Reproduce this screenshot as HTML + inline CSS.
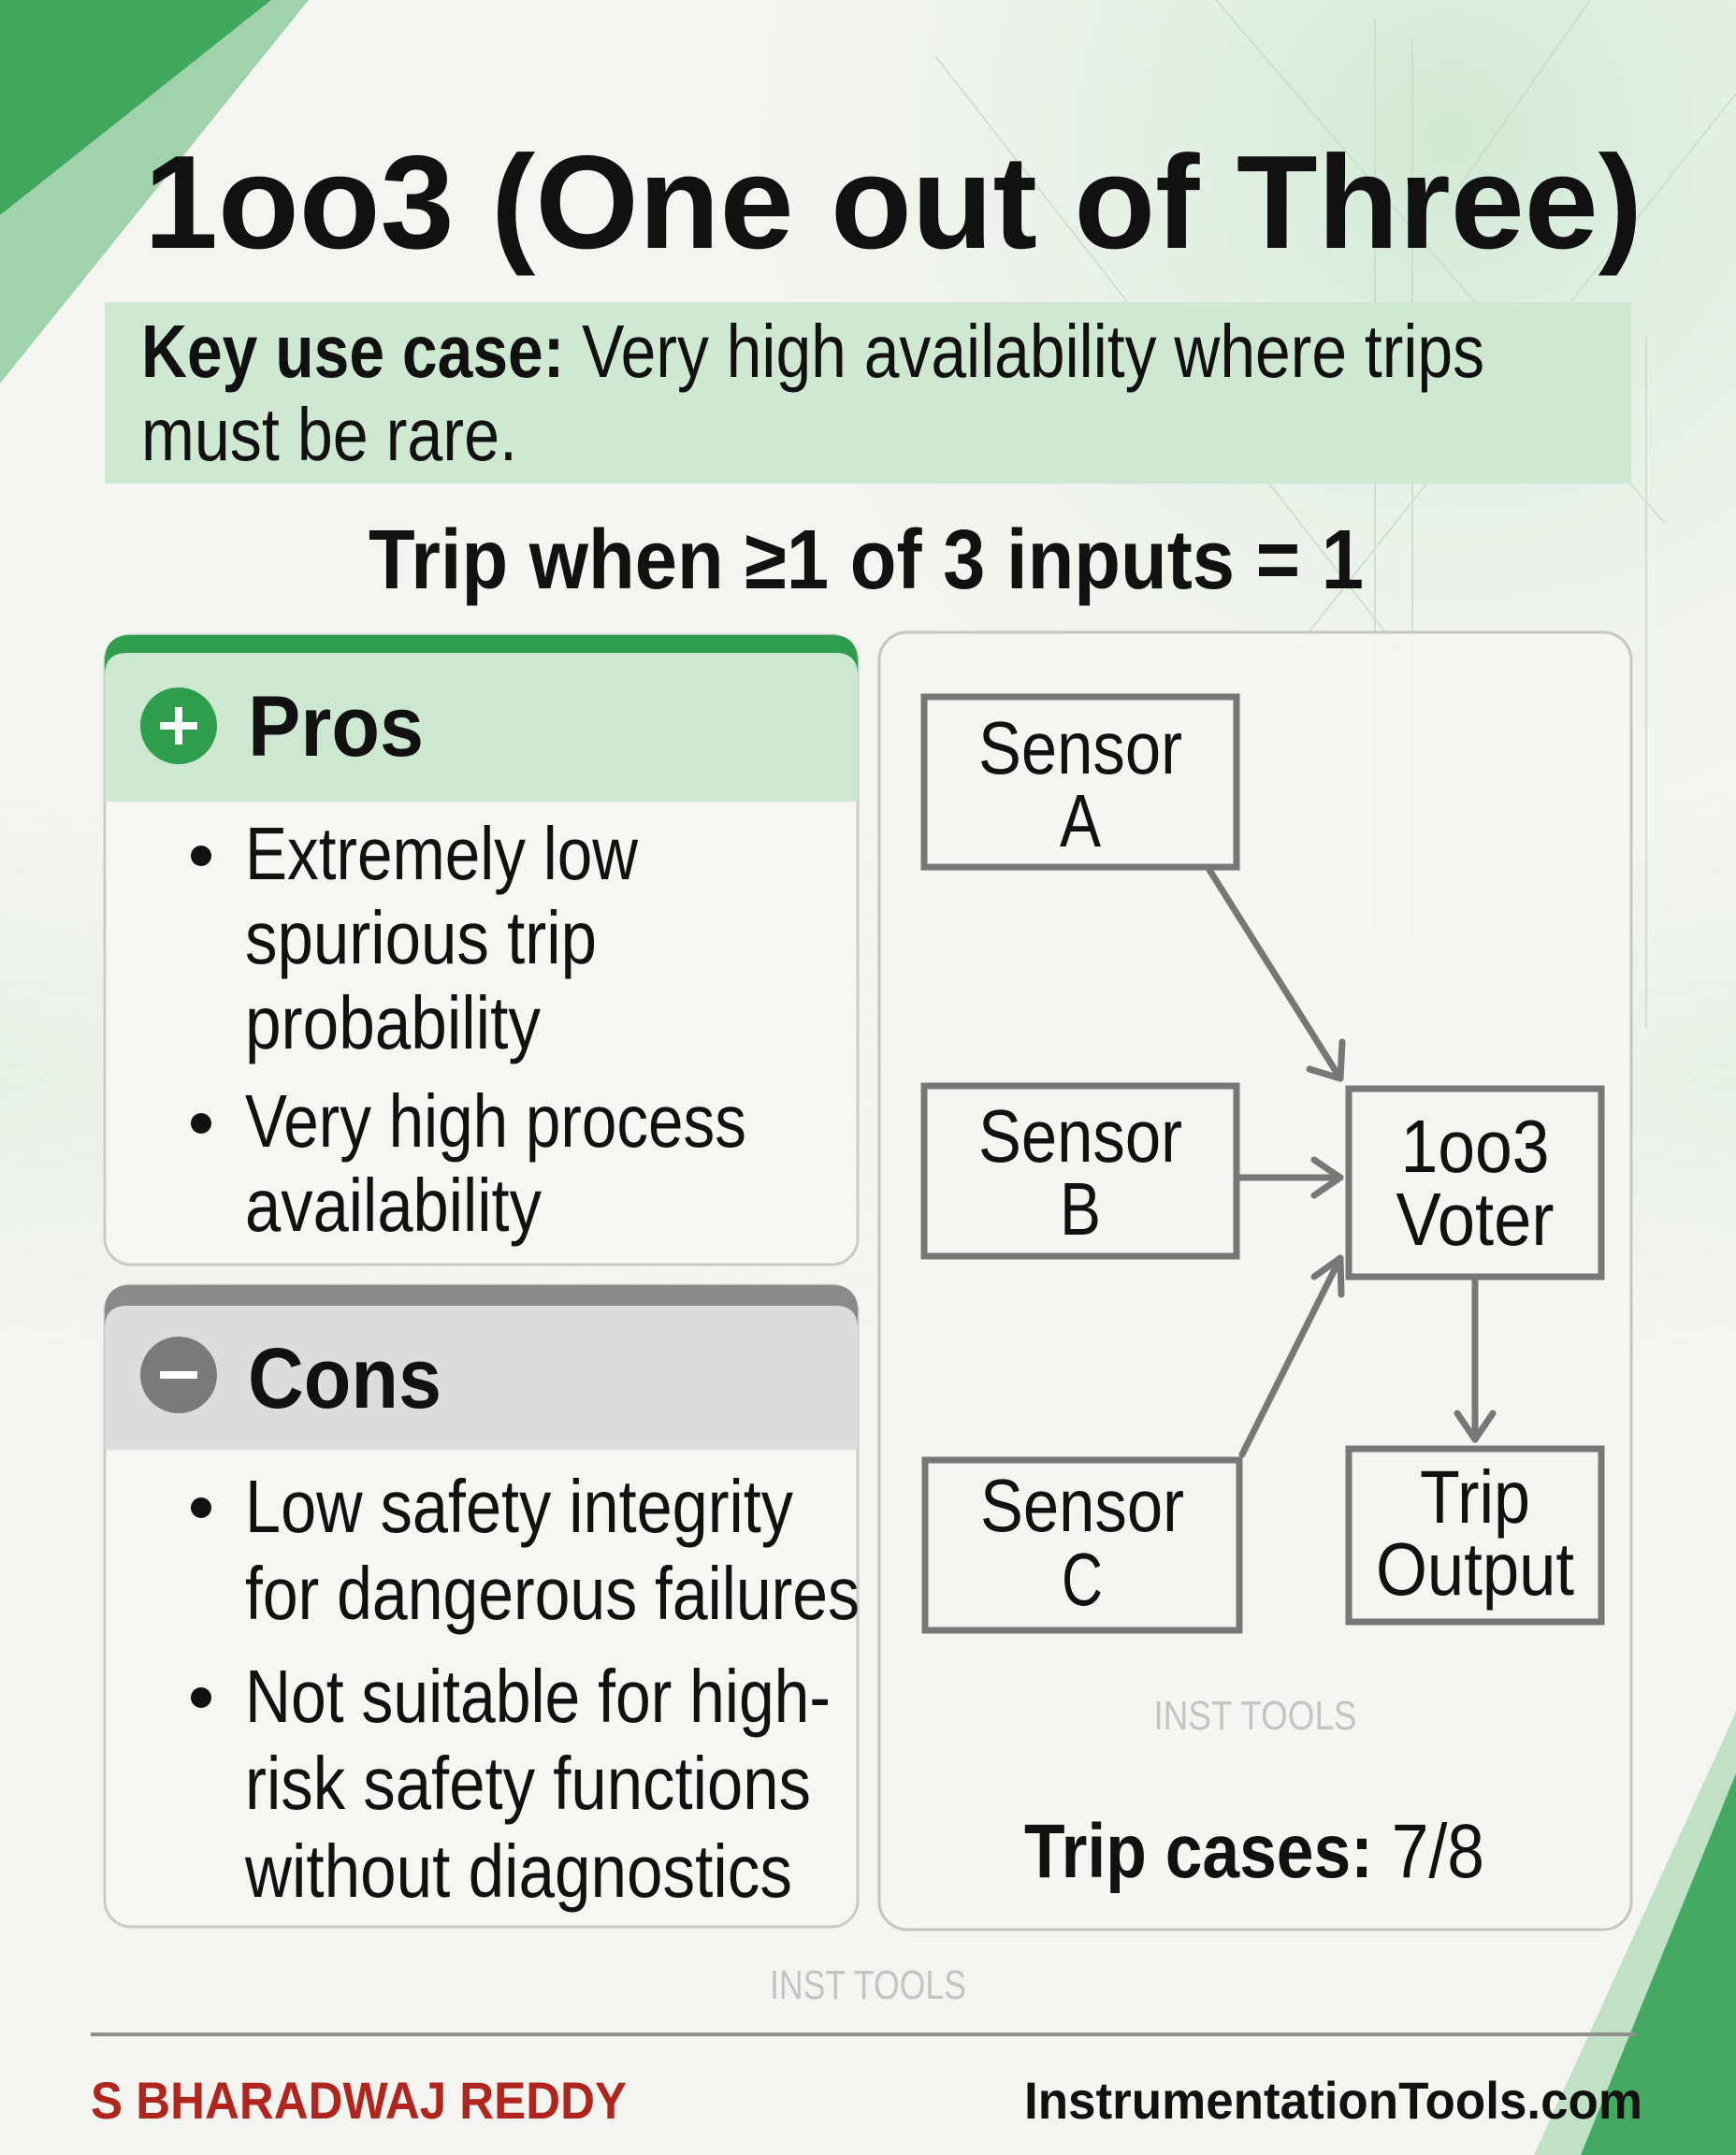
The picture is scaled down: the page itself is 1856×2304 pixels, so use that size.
<!DOCTYPE html>
<html><head><meta charset="utf-8"><style>
html,body{margin:0;padding:0;width:1856px;height:2304px;overflow:hidden;background:#f4f5f0}
svg{display:block}
text{font-family:"Liberation Sans Narrow","Liberation Sans",sans-serif;fill:#111}
</style></head><body>
<svg width="1856" height="2304" viewBox="0 0 1856 2304" xmlns="http://www.w3.org/2000/svg">
<defs>
<radialGradient id="tr" cx="1550" cy="150" r="900" gradientUnits="userSpaceOnUse">
<stop offset="0" stop-color="#cfe9d4"/><stop offset="1" stop-color="#f4f5f0" stop-opacity="0"/>
</radialGradient>
<linearGradient id="band" x1="0" y1="0" x2="1" y2="0">
<stop offset="0" stop-color="#d6ecd9" stop-opacity="0.9"/><stop offset="0.5" stop-color="#e8f3e8" stop-opacity="0.3"/><stop offset="1" stop-color="#d6ecd9" stop-opacity="0.9"/>
</linearGradient>
<linearGradient id="vfade" x1="0" y1="0" x2="0" y2="1">
<stop offset="0" stop-color="#fff" stop-opacity="0"/><stop offset="0.5" stop-color="#fff" stop-opacity="1"/><stop offset="1" stop-color="#fff" stop-opacity="0"/>
</linearGradient>
<mask id="m"><rect x="0" y="850" width="1856" height="600" fill="url(#vfade)"/></mask>
</defs>
<rect width="1856" height="2304" fill="#f4f5f0"/>
<rect width="1856" height="1100" fill="url(#tr)"/>
<rect x="0" y="850" width="1856" height="600" fill="url(#band)" opacity="0.45" mask="url(#m)"/>
<g stroke="#c9dccb" stroke-width="2" fill="none" opacity="0.8">
<path d="M1000 60 L1500 700"/><path d="M1470 20 L1470 1000"/><path d="M1510 40 L1510 1000"/><path d="M1300 0 L1780 560"/><path d="M1856 100 L1380 700"/><path d="M1700 0 L1560 200"/><path d="M1760 360 L1760 1100"/>
</g>
<polygon points="0,0 330,0 0,410" fill="#7cc48d" opacity="0.7"/>
<polygon points="0,0 290,0 0,230" fill="#3fa85c"/>
<polygon points="1856,1830 1856,2304 1640,2304" fill="#9fd4ab" opacity="0.6"/>
<polygon points="1856,1896 1856,2304 1690,2304" fill="#46a962"/>

<text x="154" y="265" font-size="142" font-weight="bold" textLength="1602" lengthAdjust="spacingAndGlyphs" style="font-family:'Liberation Sans',sans-serif">1oo3 (One out of Three)</text>

<rect x="112" y="323" width="1632" height="194" fill="#cfe8d2"/>
<text x="151" y="403" font-size="80" textLength="1436" lengthAdjust="spacingAndGlyphs"><tspan font-weight="bold">Key use case:</tspan> Very high availability where trips</text>
<text x="151" y="492" font-size="80" textLength="402" lengthAdjust="spacingAndGlyphs">must be rare.</text>

<text x="394" y="629" font-size="90" font-weight="bold" textLength="1064" lengthAdjust="spacingAndGlyphs">Trip when ≥1 of 3 inputs = 1</text>

<rect x="112" y="679" width="805" height="673" rx="28" fill="#f6f7f2" stroke="#c9cbc6" stroke-width="3"/>
<path d="M112 857 L112 707 Q112 679 140 679 L889 679 Q917 679 917 707 L917 857 Z" fill="#2f9e4c"/>
<path d="M112 857 L112 722 Q112 698 136 698 L893 698 Q917 698 917 722 L917 857 Z" fill="#cce8d1"/>
<circle cx="191" cy="776" r="41" fill="#2f9e4c"/>
<path d="M191 756 V796 M171 776 H211" stroke="#fff" stroke-width="8"/>
<text x="265" y="808" font-size="92" font-weight="bold" textLength="188" lengthAdjust="spacingAndGlyphs">Pros</text>
<g font-size="80">
<circle cx="215" cy="915" r="11" fill="#111"/>
<text x="262" y="940" textLength="420" lengthAdjust="spacingAndGlyphs">Extremely low</text>
<text x="262" y="1030" textLength="376" lengthAdjust="spacingAndGlyphs">spurious trip</text>
<text x="262" y="1121" textLength="316" lengthAdjust="spacingAndGlyphs">probability</text>
<circle cx="215" cy="1201" r="11" fill="#111"/>
<text x="262" y="1226" textLength="536" lengthAdjust="spacingAndGlyphs">Very high process</text>
<text x="262" y="1316" textLength="317" lengthAdjust="spacingAndGlyphs">availability</text>
</g>

<rect x="112" y="1374" width="805" height="686" rx="28" fill="#f6f7f2" stroke="#c9cbc6" stroke-width="3"/>
<path d="M112 1550 L112 1402 Q112 1374 140 1374 L889 1374 Q917 1374 917 1402 L917 1550 Z" fill="#8a8a8a"/>
<path d="M112 1550 L112 1420 Q112 1396 136 1396 L893 1396 Q917 1396 917 1420 L917 1550 Z" fill="#dcdcda"/>
<circle cx="191" cy="1470" r="41" fill="#7a7a7a"/>
<path d="M171 1470 H211" stroke="#fff" stroke-width="8"/>
<text x="265" y="1505" font-size="92" font-weight="bold" textLength="207" lengthAdjust="spacingAndGlyphs">Cons</text>
<g font-size="80">
<circle cx="215" cy="1612" r="11" fill="#111"/>
<text x="262" y="1638" textLength="586" lengthAdjust="spacingAndGlyphs">Low safety integrity</text>
<text x="262" y="1731" textLength="657" lengthAdjust="spacingAndGlyphs">for dangerous failures</text>
<circle cx="215" cy="1815" r="11" fill="#111"/>
<text x="262" y="1841" textLength="626" lengthAdjust="spacingAndGlyphs">Not suitable for high-</text>
<text x="262" y="1934" textLength="605" lengthAdjust="spacingAndGlyphs">risk safety functions</text>
<text x="262" y="2028" textLength="585" lengthAdjust="spacingAndGlyphs">without diagnostics</text>
</g>

<rect x="940" y="676" width="804" height="1387" rx="30" fill="#f5f6f2" fill-opacity="0.85" stroke="#c4c6c2" stroke-width="3"/>
<g fill="#f4f5f1" stroke="#777" stroke-width="7">
<rect x="988" y="745" width="334" height="182"/>
<rect x="988" y="1161" width="334" height="182"/>
<rect x="989" y="1561" width="336" height="182"/>
<rect x="1442" y="1164" width="270" height="201"/>
<rect x="1442" y="1549" width="270" height="185"/>
</g>
<g stroke="#777" stroke-width="7" fill="none" stroke-linecap="round" stroke-linejoin="round">
<path d="M1293 930 L1433 1153"/><path d="M1400 1143 L1433 1153 L1435 1114"/>
<path d="M1325 1259 L1433 1259"/><path d="M1405 1240 L1433 1259 L1405 1278"/>
<path d="M1328 1555 L1433 1345"/><path d="M1405 1365 L1433 1345 L1434 1384"/>
<path d="M1577 1368 L1577 1539"/><path d="M1558 1511 L1577 1539 L1596 1511"/>
</g>
<g font-size="80" text-anchor="middle">
<text x="1155" y="827" textLength="218" lengthAdjust="spacingAndGlyphs">Sensor</text><text x="1155" y="905" textLength="44" lengthAdjust="spacingAndGlyphs">A</text>
<text x="1155" y="1242" textLength="218" lengthAdjust="spacingAndGlyphs">Sensor</text><text x="1155" y="1320" textLength="44" lengthAdjust="spacingAndGlyphs">B</text>
<text x="1157" y="1637" textLength="218" lengthAdjust="spacingAndGlyphs">Sensor</text><text x="1157" y="1716" textLength="44" lengthAdjust="spacingAndGlyphs">C</text>
<text x="1577" y="1253" textLength="159" lengthAdjust="spacingAndGlyphs">1oo3</text><text x="1577" y="1331" textLength="169" lengthAdjust="spacingAndGlyphs">Voter</text>
<text x="1577" y="1628" textLength="118" lengthAdjust="spacingAndGlyphs">Trip</text><text x="1577" y="1705" textLength="212" lengthAdjust="spacingAndGlyphs">Output</text>
</g>
<text x="1342" y="1849" font-size="44" text-anchor="middle" style="fill:#c4c4c4" textLength="217" lengthAdjust="spacingAndGlyphs">INST TOOLS</text>
<text x="1095" y="2007" font-size="82" textLength="492" lengthAdjust="spacingAndGlyphs"><tspan font-weight="bold">Trip cases:</tspan> 7/8</text>

<text x="823" y="2137" font-size="44" style="fill:#c4c4c4" textLength="210" lengthAdjust="spacingAndGlyphs">INST TOOLS</text>
<rect x="97" y="2173" width="1652" height="4" fill="#8f8f8f"/>
<text x="97" y="2265" font-size="56" font-weight="bold" style="fill:#b0261e;font-family:'Liberation Sans',sans-serif" textLength="573" lengthAdjust="spacingAndGlyphs">S BHARADWAJ REDDY</text>
<text x="1095" y="2265" font-size="56" font-weight="bold" style="font-family:'Liberation Sans',sans-serif" textLength="661" lengthAdjust="spacingAndGlyphs">InstrumentationTools.com</text>
</svg>
</body></html>
